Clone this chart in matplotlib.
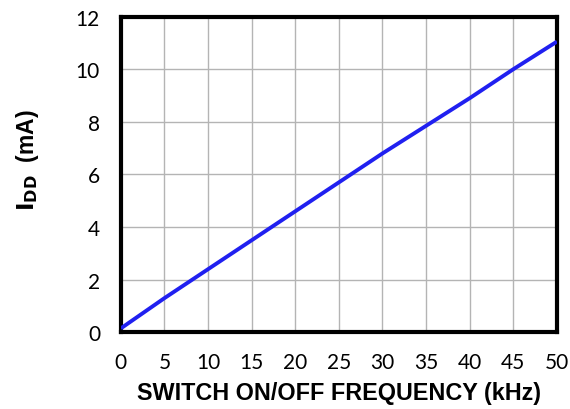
import numpy as np
import matplotlib
matplotlib.use('Agg')
import matplotlib.pyplot as plt

# --- Data ---
freq_khz = [0, 5, 10, 15, 20, 25, 30, 35, 40, 45, 50]
idd_ma = [0.15, 1.3, 2.4, 3.5, 4.6, 5.7, 6.8, 7.85, 8.9, 10.0, 11.05]

x_ticks = list(range(0, 55, 5))
y_ticks = list(range(0, 14, 2))

# --- Figure ---
fig = plt.figure(figsize=(5.7, 4.1), dpi=100)
ax = fig.add_axes([0.212, 0.187, 0.765, 0.770])

ax.plot(freq_khz, idd_ma, color='#2020f0', lw=2.8, solid_capstyle='butt', zorder=3)

ax.set_xlim(0, 50)
ax.set_ylim(0, 12)
ax.set_xticks(x_ticks)
ax.set_yticks(y_ticks)
ax.grid(True, color='#b4b4b4', lw=1.0)
ax.tick_params(length=0, labelsize=15)
ax.tick_params(axis='x', pad=14)
ax.tick_params(axis='y', pad=15)
for lbl in ax.get_xticklabels() + ax.get_yticklabels():
    lbl.set_family('Lato')

for sp in ax.spines.values():
    sp.set_linewidth(3)
    sp.set_color('black')

ax.set_xlabel('SWITCH ON/OFF FREQUENCY (kHz)', family='Liberation Sans',
              fontweight='bold', fontsize=16.8, labelpad=7)
ax.set_ylabel(r'$\mathbf{I_{DD}}$  (mA)', family='Liberation Sans',
              fontweight='bold', fontsize=16.5)
ax.yaxis.set_label_coords(-0.182, 0.55)

fig.savefig('out.png', dpi=100)
